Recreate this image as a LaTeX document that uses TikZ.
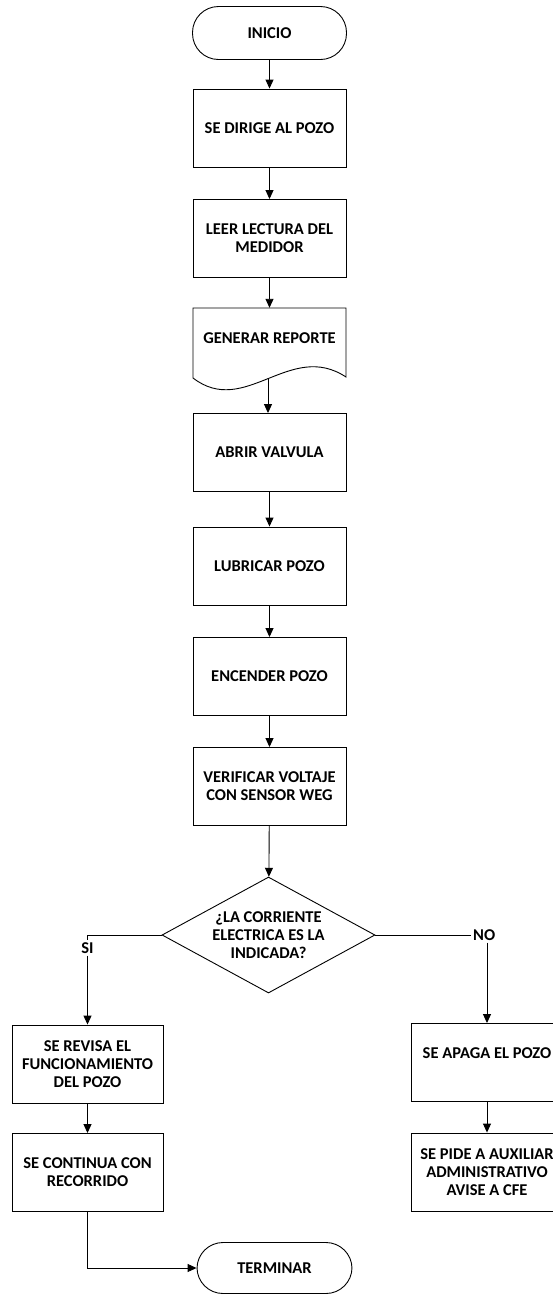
\documentclass[tikz,border=0pt]{standalone}
\usepackage{fontspec}
\setmainfont{Carlito}
\usetikzlibrary{arrows.meta,shapes.geometric}
\begin{document}
\begin{tikzpicture}[x=1pt,y=-1pt,
  every node/.style={font=\bfseries\fontsize{16.5}{18}\selectfont, align=center},
  proc/.style={draw, line width=0.9pt, minimum width=153pt, minimum height=78pt, inner sep=2pt},
  term/.style={draw, line width=0.9pt, rounded corners=26pt, minimum width=154pt, minimum height=53pt},
  decis/.style={draw, diamond, aspect=1.8, line width=0.9pt, minimum width=213pt, minimum height=116pt, inner sep=0pt},
  arr/.style={-{Triangle[width=8pt,length=9pt]}, line width=0.9pt},
  lin/.style={line width=0.9pt},
  lbl/.style={inner sep=2pt}
]
\useasboundingbox (0,0) rectangle (553,1294);
\node[term] (inicio) at (269.5,33) {INICIO};
\node[proc] (b1) at (269.5,128) {SE DIRIGE AL POZO};
\node[proc] (b2) at (269.5,238.5) {LEER LECTURA DEL\\MEDIDOR};
\draw[lin] (193,308) -- (346,308) -- (346,377) .. controls (290,340) and (245,418) .. (193,378) -- cycle;
\node[minimum width=153pt, minimum height=60pt, inner sep=0pt] (b3) at (269.5,338) {GENERAR REPORTE};
\coordinate (b3b) at (268,378.5);
\node[proc] (b4) at (269.5,452.5) {ABRIR VALVULA};
\node[proc] (b5) at (269.5,566) {LUBRICAR POZO};
\node[proc] (b6) at (269.5,676.5) {ENCENDER POZO};
\node[proc] (b7) at (269.5,786.5) {VERIFICAR VOLTAJE\\CON SENSOR WEG};
\node[decis] (d) at (268.5,935) {¿LA CORRIENTE\\ELECTRICA ES LA\\INDICADA?};
\node[proc, minimum width=151pt] (si1) at (87.5,1064) {SE REVISA EL\\FUNCIONAMIENTO\\DEL POZO};
\node[proc, minimum width=151pt] (si2) at (87.5,1172.5) {SE CONTINUA CON\\RECORRIDO};
\node[proc, minimum width=151pt] (no1) at (487,1062.5) {SE APAGA EL POZO\\\mbox{}};
\node[proc, minimum width=151pt] (no2) at (487,1172) {SE PIDE A AUXILIAR\\ADMINISTRATIVO\\AVISE A CFE};
\node[term, minimum width=155pt, minimum height=51pt] (fin) at (274.5,1268) {TERMINAR};
\node[lbl] (si) at (87.5,948) {SI};
\node[lbl, anchor=west] (no) at (471,935) {NO};
\draw[arr] (inicio) -- (b1);
\draw[arr] (b1) -- (b2);
\draw[arr] (b2) -- (b3);
\draw[arr] (b3b) -- (b4.north -| b3b);
\draw[arr] (b4) -- (b5);
\draw[arr] (b5) -- (b6);
\draw[arr] (b6) -- (b7);
\draw[arr] (b7) -- (d);
\draw[lin] (d.west) -| (si.north);
\draw[arr] (si.south) -- (si1.north);
\draw[lin] (d.east) -- (no.west);
\draw[arr] (no.south -| no1.north) -- (no1.north);
\draw[arr] (si1) -- (si2);
\draw[arr] (no1) -- (no2);
\draw[arr] (si2.south) |- (fin.west);
\end{tikzpicture}
\end{document}
